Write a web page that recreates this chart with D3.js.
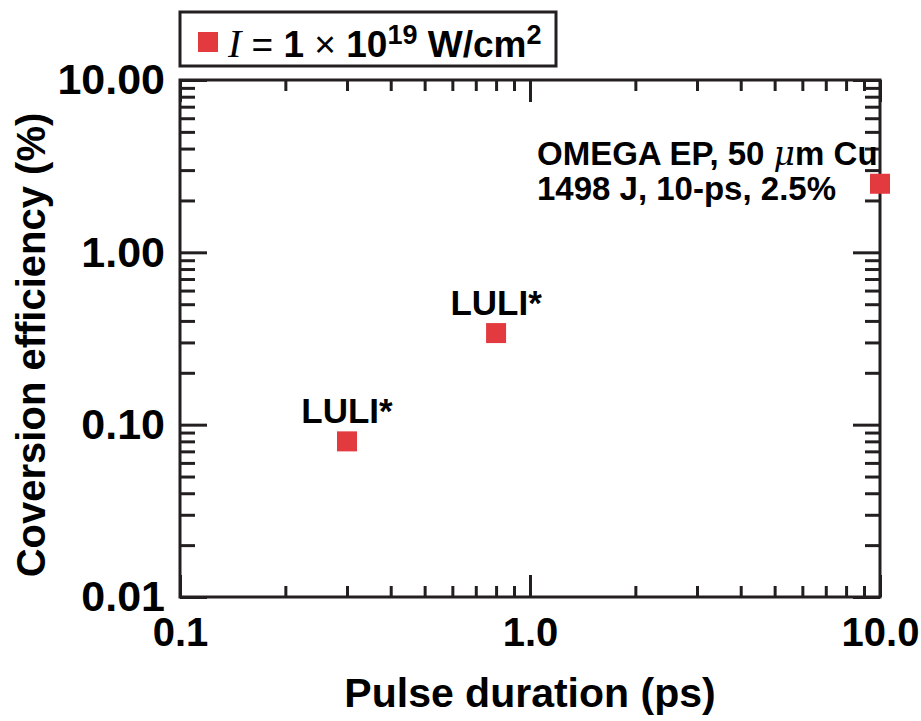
<!DOCTYPE html>
<html>
<head>
<meta charset="utf-8">
<script src="https://cdn.jsdelivr.net/npm/d3@7"></script>
<style>
  body { margin: 0; background: #fff; }
  svg text { font-family: "Liberation Sans", Arial, Helvetica, sans-serif; font-weight: bold; fill: #000; }
  .domain { display: none; }
  .tick line { stroke: #231f20; stroke-width: 3; }
</style>
</head>
<body>
<svg id="chart"></svg>
<script>
var width = 921,
  height = 721,
  margin = {top: 80, right: 41, bottom: 124, left: 180};

// data
var pulseDuration = [0.3, 0.8, 10],
  efficiency = [0.08, 0.34, 2.5],
  pointLabels = ['LULI*', 'LULI*', ''];

var xMajorTicks = [0.1, 1, 10],
  yMajorTicks = [0.01, 0.1, 1, 10];

var markerColor = '#e23a3f';

function draw() {
  var svg, plot, x, y, w, h, xMinor, yMinor;

  w = width - margin.left - margin.right;
  h = height - margin.top - margin.bottom;

  svg = d3.select('#chart')
    .attr('width', width)
    .attr('height', height);

  plot = svg.append('g')
    .attr('transform', 'translate(' + margin.left + ',' + margin.top + ')');

  x = d3.scaleLog().domain([0.1, 10]).range([0, w]);
  y = d3.scaleLog().domain([0.01, 10]).range([h, 0]);

  xMinor = x.ticks().filter(function(d) { return xMajorTicks.indexOf(d) < 0; });
  yMinor = y.ticks().filter(function(d) { return yMajorTicks.indexOf(+d.toPrecision(6)) < 0; });

  // MINOR TICKS (all pointing inward)
  plot.append('g').attr('transform', 'translate(0,' + h + ')')
    .call(d3.axisBottom(x).tickValues(xMinor).tickSize(-11).tickFormat(''));
  plot.append('g')
    .call(d3.axisTop(x).tickValues(xMinor).tickSize(-11).tickFormat(''));
  plot.append('g')
    .call(d3.axisLeft(y).tickValues(yMinor).tickSize(-15).tickFormat(''));
  plot.append('g').attr('transform', 'translate(' + w + ',0)')
    .call(d3.axisRight(y).tickValues(yMinor).tickSize(-15).tickFormat(''));

  // MAJOR TICKS
  plot.append('g').attr('transform', 'translate(0,' + h + ')')
    .call(d3.axisBottom(x).tickValues(xMajorTicks).tickSize(-22).tickFormat(''));
  plot.append('g')
    .call(d3.axisTop(x).tickValues(xMajorTicks).tickSize(-22).tickFormat(''));
  plot.append('g')
    .call(d3.axisLeft(y).tickValues(yMajorTicks).tickSize(-27).tickFormat(''));
  plot.append('g').attr('transform', 'translate(' + w + ',0)')
    .call(d3.axisRight(y).tickValues(yMajorTicks).tickSize(-27).tickFormat(''));

  // FRAME
  plot.append('rect')
    .attr('width', w)
    .attr('height', h)
    .style('fill', 'none')
    .style('stroke', '#231f20')
    .style('stroke-width', 3);

  // TICK LABELS
  var xLabels = plot.append('g').attr('transform', 'translate(0,' + h + ')')
    .call(d3.axisBottom(x).tickValues(xMajorTicks).tickSize(0).tickPadding(21).tickFormat(d3.format('.1f')));
  xLabels.selectAll('text').style('font-size', '40px');

  var yLabels = plot.append('g')
    .call(d3.axisLeft(y).tickValues(yMajorTicks).tickSize(0).tickPadding(15).tickFormat(d3.format('.2f')));
  yLabels.selectAll('text').style('font-size', '43px');

  // AXIS TITLES
  svg.append('text')
    .attr('x', margin.left + w / 2)
    .attr('y', 707)
    .attr('text-anchor', 'middle')
    .style('font-size', '41px')
    .text('Pulse duration (ps)');

  svg.append('text')
    .attr('transform', 'translate(45,345) rotate(-90)')
    .attr('text-anchor', 'middle')
    .style('font-size', '40px')
    .text('Coversion efficiency (%)');

  // POINTS
  var pts = plot.selectAll('g.point')
    .data(pulseDuration.map(function(d, i) {
      return {x: d, y: efficiency[i], label: pointLabels[i]};
    }))
    .enter()
    .append('g')
    .attr('class', 'point')
    .attr('transform', function(d) { return 'translate(' + x(d.x) + ',' + y(d.y) + ')'; });

  pts.append('rect')
    .attr('x', -10)
    .attr('y', -10)
    .attr('width', 20)
    .attr('height', 20)
    .style('fill', markerColor);

  pts.append('text')
    .attr('y', -18)
    .attr('text-anchor', 'middle')
    .style('font-size', '35px')
    .text(function(d) { return d.label; });

  // OMEGA EP NOTE (two lines)
  var note1 = svg.append('text')
    .attr('x', 537)
    .attr('y', 165)
    .style('font-size', '33px');
  note1.append('tspan').text('OMEGA EP, 50 ');
  note1.append('tspan')
    .style('font-family', '"DejaVu Serif", serif')
    .style('font-style', 'italic')
    .style('font-weight', 'normal')
    .text('\u03bc');
  note1.append('tspan').text('m Cu');

  svg.append('text')
    .attr('x', 537)
    .attr('y', 200)
    .style('font-size', '33px')
    .text('1498 J, 10-ps, 2.5%');

  // LEGEND
  var legend = svg.append('g').attr('transform', 'translate(180,12)');
  legend.append('rect')
    .attr('width', 376)
    .attr('height', 54)
    .style('fill', '#fff')
    .style('stroke', '#231f20')
    .style('stroke-width', 3);
  legend.append('rect')
    .attr('x', 18)
    .attr('y', 20)
    .attr('width', 20)
    .attr('height', 20)
    .style('fill', markerColor);
  var lt = legend.append('text')
    .attr('x', 48)
    .attr('y', 45)
    .style('font-size', '37px');
  lt.append('tspan')
    .style('font-family', '"Liberation Serif", "Times New Roman", serif')
    .style('font-style', 'italic')
    .style('font-weight', 'normal')
    .style('font-size', '40px')
    .text('I');
  lt.append('tspan').style('font-weight', 'normal').text(' = ');
  lt.append('tspan').text('1 ');
  lt.append('tspan').style('font-weight', 'normal').text('\u00d7');
  lt.append('tspan').text(' 10');
  lt.append('tspan').attr('dy', -13).style('font-size', '27px').text('19');
  lt.append('tspan').attr('dy', 13).text(' W/cm');
  lt.append('tspan').attr('dy', -13).style('font-size', '27px').text('2');
}

draw();
</script>
</body>
</html>
